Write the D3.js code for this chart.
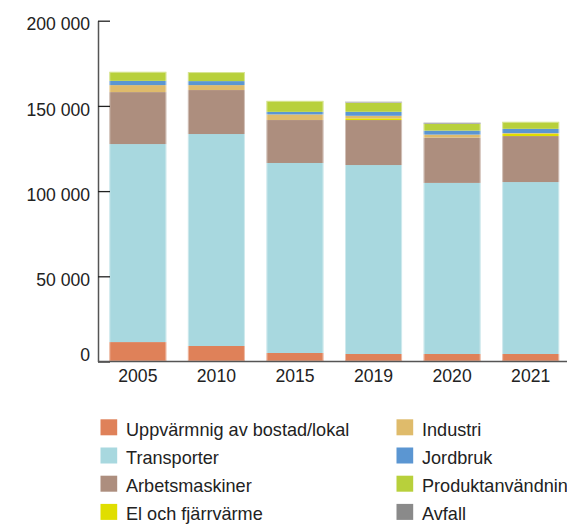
<!DOCTYPE html>
<html><head><meta charset="utf-8">
<script src="https://cdn.jsdelivr.net/npm/d3@7"></script>
<style>
body{margin:0;background:#fff;overflow:hidden}
text{font-family:"Liberation Sans",Arial,Helvetica,sans-serif;fill:#222}
</style></head>
<body><svg id="c" width="567" height="525"></svg>
<script>
const years = ["2005","2010","2015","2019","2020","2021"];
const seriesNames = ["Uppvärmnig av bostad/lokal","Transporter","Arbetsmaskiner","El och fjärrvärme","Industri","Jordbruk","Produktanvändnin","Avfall"];
const uppvarmning = [11400, 9100, 5000, 4400, 4400, 4400];
const transporter = [116200, 124400, 111500, 110900, 100400, 100900];
const arbetsmaskiner = [30500, 25800, 25200, 26400, 26600, 27000];
const elFjarrvarme = [0, 0, 0, 1000, 0, 1350];
const industri = [4100, 2900, 3300, 1500, 1750, 400];
const jordbruk = [2500, 2350, 1500, 2350, 2350, 2500];
const produktanvandning = [5300, 5300, 6450, 5300, 3900, 4100];
const avfall = [0, 0, 0, 600, 750, 0];
const yTicks = [0, 50000, 100000, 150000, 200000];
const colors = ["#df8159","#a8d8df","#ad8e7e","#e0de00","#dfbb6b","#5b96d2","#b8d03b","#8a8a8a"];

const seriesValues = [uppvarmning, transporter, arbetsmaskiner, elFjarrvarme, industri, jordbruk, produktanvandning, avfall];
const rows = years.map((y,i)=>{const r={year:y}; seriesNames.forEach((s,k)=>r[s]=seriesValues[k][i]); return r;});

const svg = d3.select("#c");
const x = d3.scaleBand().domain(years).range([98, 570.5]).paddingInner(0.274).paddingOuter(0.144);
const y = d3.scaleLinear().domain([0,200000]).range([361.5, 20.7]);
const fmt = d3.formatLocale({decimal:",", thousands:" ", grouping:[3], currency:["",""]}).format(",d");

const stack = d3.stack().keys(seriesNames)(rows);
svg.append("g").selectAll("g").data(stack).join("g")
  .attr("fill",(d,i)=>colors[i])
  .selectAll("rect").data(d=>d).join("rect")
  .attr("x",d=>x(d.data.year))
  .attr("width",x.bandwidth())
  .attr("y",d=>y(d[1]))
  .attr("height",d=>Math.max(0,y(d[0])-y(d[1])));

// bar light edges
svg.append("g").selectAll("rect").data(rows).join("rect")
  .attr("x",d=>x(d.year)+0.5)
  .attr("width",x.bandwidth()-1)
  .attr("y",d=>y(d3.sum(seriesNames,s=>d[s]))+0.5)
  .attr("height",d=>y(0)-y(d3.sum(seriesNames,s=>d[s]))-1)
  .attr("fill","none").attr("stroke","#fff").attr("stroke-opacity",0.45);

// y axis
const ya = svg.append("g").attr("transform","translate(98,0)")
  .call(d3.axisRight(y).tickValues(yTicks).tickFormat(fmt).tickSize(12).tickSizeOuter(0));
ya.select(".domain").attr("stroke","#555").attr("stroke-width",1.5);
ya.selectAll(".tick line").attr("stroke","#222").attr("stroke-width",1.3);
ya.selectAll(".tick text").attr("x",-8).attr("text-anchor","end")
  .attr("dy",(d)=> d===0 ? "-0.05em" : "0.52em")
  .style("font-size","17.6px");

// x axis
const xa = svg.append("g").attr("transform","translate(0,361.5)")
  .call(d3.axisBottom(x).tickSize(0).tickSizeOuter(0));
xa.select(".domain").attr("d","M98,0H567").attr("stroke","#555").attr("stroke-width",1.5);
xa.selectAll(".tick text").attr("y",8.5).attr("dy","0.71em").style("font-size","17.6px");

// legend
const legend = svg.append("g");
const lx = [100.5, 396.5];
seriesNames.forEach((s,i)=>{
  const col = Math.floor(i/4), row = i%4;
  const gx = lx[col], gy = 419.3 + row*28.2;
  legend.append("rect").attr("x",gx).attr("y",gy).attr("width",16.7).attr("height",16).attr("fill",colors[i]);
  legend.append("text").attr("x",gx+25.5).attr("y",gy+16.5).style("font-size","18.1px").text(s);
});
</script></body></html>
